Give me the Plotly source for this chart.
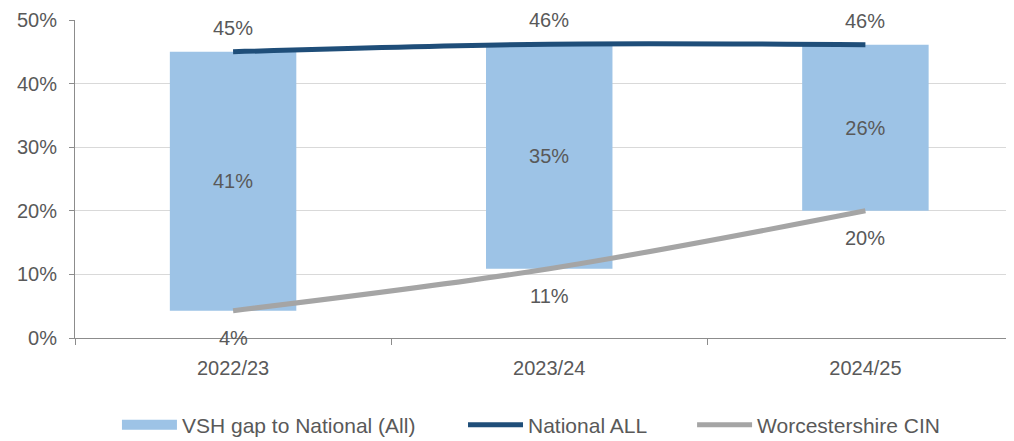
import plotly.graph_objects as go

categories = ["2022/23", "2023/24", "2024/25"]
national_all = [45.0, 46.2, 46.1]
worcs_cin = [4.3, 10.9, 20.0]
gap = [n - w for n, w in zip(national_all, worcs_cin)]
national_labels = ["45%", "46%", "46%"]
worcs_labels = ["4%", "11%", "20%"]
gap_labels = ["41%", "35%", "26%"]
y_ticks = [0, 10, 20, 30, 40, 50]
y_tick_labels = ["0%", "10%", "20%", "30%", "40%", "50%"]

FONT = "Liberation Sans, Arial"
TXT = "#595959"
FS = 20
BAR_COLOR = "#9DC3E6"

fig = go.Figure()
fig.add_trace(go.Bar(
    x=categories, y=gap, base=worcs_cin, name="VSH gap to National (All)",
    marker=dict(color=BAR_COLOR, line=dict(width=0)), width=0.4,
    text=gap_labels, textposition="inside", insidetextanchor="middle",
    textfont=dict(family=FONT, size=FS, color=TXT), hoverinfo="skip",
    showlegend=False,
))
# legend entry for the bar series (wide flat swatch as in the original)
fig.add_trace(go.Scatter(
    x=[None], y=[None], name="VSH gap to National (All)", mode="lines",
    line=dict(color=BAR_COLOR, width=10), legend="legend",
))
fig.add_trace(go.Scatter(
    x=categories, y=national_all, name="National ALL", mode="lines",
    line=dict(color="#1F4E79", width=5, shape="spline"), legend="legend2",
))
fig.add_trace(go.Scatter(
    x=categories, y=worcs_cin, name="Worcestershire CIN", mode="lines",
    line=dict(color="#A5A5A5", width=5, shape="spline"), legend="legend3",
))

for c, v, t in zip(categories, national_all, national_labels):
    fig.add_annotation(x=c, y=v, text=t, showarrow=False, yshift=24,
                       font=dict(family=FONT, size=FS, color=TXT))
for c, v, t in zip(categories, worcs_cin, worcs_labels):
    fig.add_annotation(x=c, y=v, text=t, showarrow=False, yshift=-27,
                       font=dict(family=FONT, size=FS, color=TXT))

LEG_FONT = dict(family=FONT, size=21, color=TXT)
def leg(x):
    return dict(orientation="h", xref="container", yref="container",
                x=x, xanchor="left", y=0.037, yanchor="middle",
                font=LEG_FONT, itemwidth=55, bgcolor="rgba(0,0,0,0)")

fig.update_layout(
    width=1006, height=433,
    margin=dict(l=67, r=0, t=12, b=103, autoexpand=False),
    plot_bgcolor="white", paper_bgcolor="white",
    font=dict(family=FONT, size=FS, color=TXT),
    showlegend=True,
    legend=leg(0.1083),
    legend2=leg(0.4523),
    legend3=leg(0.680),
)
fig.update_xaxes(
    type="category", range=[-0.5, 2.47],
    showline=True, linecolor="#8C8C8C", linewidth=1,
    ticks="outside", tickson="boundaries", ticklen=6, tickcolor="#8C8C8C",
    showgrid=False, tickfont=dict(family=FONT, size=FS, color=TXT),
    ticklabelstandoff=12, automargin=False,
)
fig.update_yaxes(
    range=[0, 50], tickvals=y_ticks, ticktext=y_tick_labels,
    showline=True, linecolor="#8C8C8C", linewidth=1,
    ticks="outside", ticklen=5, tickcolor="#8C8C8C",
    showgrid=True, gridcolor="#D9D9D9", gridwidth=1,
    zeroline=False, tickfont=dict(family=FONT, size=FS, color=TXT),
    ticklabelstandoff=8, automargin=False,
)

fig.write_html("out.html")
